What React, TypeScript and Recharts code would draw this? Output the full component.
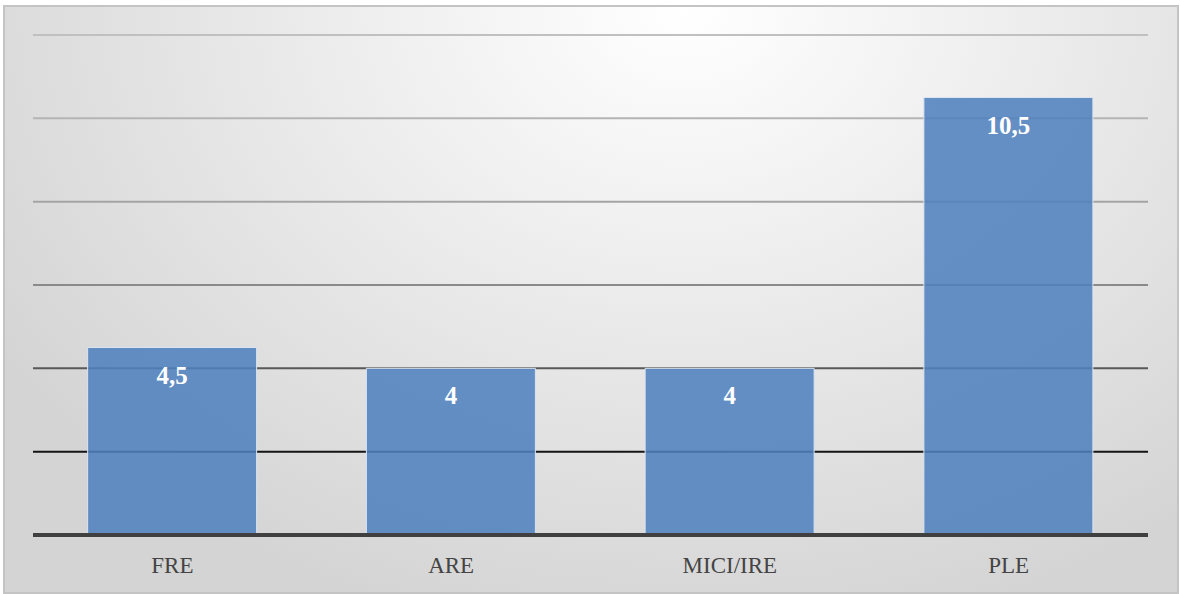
import React from 'react';
import { BarChart, Bar, XAxis, YAxis, CartesianGrid, LabelList } from 'recharts';

const categories = ['FRE', 'ARE', 'MICI/IRE', 'PLE'];
const values = [4.5, 4, 4, 10.5];
const yTicks = [0, 2, 4, 6, 8, 10, 12];
const gridColors = ['none', '#141414', '#585858', '#8a8a8a', '#a4a4a4', '#b4b4b4', '#c0c0c0'];

const data = categories.map((c, i) => ({ name: c, value: values[i] }));

const W = 1180;
const H = 594;

const GridLine = (props: any) => {
  const { x1, x2, y1, y2, index } = props;
  const color = gridColors[index] ?? '#c0c0c0';
  if (color === 'none') return <g />;
  return <line x1={x1} x2={x2} y1={y1} y2={y2} stroke={color} strokeWidth={2} />;
};

const Tick = (props: any) => {
  const { x, y, payload } = props;
  return (
    <text x={x} y={y + 30} textAnchor="middle" fill="#444444" fontFamily="'Liberation Serif', serif" fontSize={23}>
      {payload.value}
    </text>
  );
};

const ValueLabel = (props: any) => {
  const { x, y, width, value } = props;
  return (
    <text x={x + width / 2} y={y + 36} textAnchor="middle" fill="#ffffff" fontWeight="bold" fontFamily="'Liberation Serif', serif" fontSize={25}>
      {String(value).replace('.', ',')}
    </text>
  );
};

export default function App() {
  return (
    <div style={{ position: 'absolute', left: 0, top: 0, width: W, height: H, background: '#ffffff' }}>
      <div
        style={{
          position: 'absolute',
          left: 3,
          top: 5,
          width: 1172,
          height: 585,
          border: '2px solid #c4c4c4',
          background: 'radial-gradient(ellipse 70% 110% at 58% 0%, #ffffff 0%, #eeeeee 40%, #d4d4d4 100%)',
        }}
      />
      <div style={{ position: 'absolute', left: 0, top: 0 }}>
        <BarChart width={W} height={H} data={data} margin={{ top: 35, right: 32, bottom: 29, left: 33 }} barCategoryGap="19.6%">
          <CartesianGrid vertical={false} horizontal={GridLine as any} />
          <YAxis hide domain={[0, 12]} ticks={yTicks} />
          <XAxis
            dataKey="name"
            height={30}
            tickLine={false}
            axisLine={{ stroke: '#404040', strokeWidth: 4 }}
            tick={Tick as any}
            interval={0}
          />
          <Bar dataKey="value" fill="#4f81bd" fillOpacity={0.87} stroke="#dbe4f0" strokeWidth={1} isAnimationActive={false}>
            <LabelList dataKey="value" content={ValueLabel as any} />
          </Bar>
        </BarChart>
      </div>
    </div>
  );
}
